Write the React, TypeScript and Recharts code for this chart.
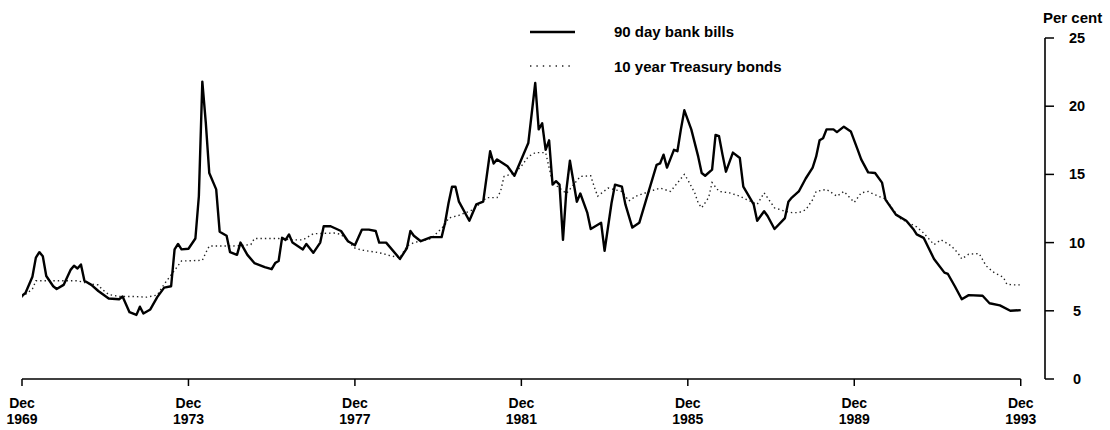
import { LineChart, Line, XAxis, YAxis, ReferenceLine } from "recharts";

// months after Dec 1969
const billMonths = [
  0, 1, 3, 4, 5, 6, 7, 9, 10, 12, 14, 15, 16, 17, 18, 20, 22, 25, 28, 29, 31, 33, 34, 35, 37, 39, 41, 43, 44, 45,
  46, 48, 50, 51, 52, 53, 54, 56, 57, 59, 60, 62, 63, 65, 67, 70, 72, 73, 74, 75, 76, 77, 78, 81, 82, 84, 86, 87, 89, 92,
  94, 96, 98, 100, 102, 103, 105, 109, 111, 112, 113, 115, 118, 121, 122, 123, 124, 125, 126, 129, 131, 133, 135, 136, 137, 140, 142, 146, 148, 149,
  150, 151, 152, 153, 154, 155, 156, 157, 158, 160, 161, 163, 164, 167, 168, 170, 171, 173, 174, 176, 178, 180, 183, 184, 185, 186, 188, 189, 190, 191,
  193, 195, 196, 197, 199, 200, 201, 202, 203, 205, 207, 208, 211, 212, 214, 215, 217, 220, 221, 222, 224, 226, 228, 229, 230, 231, 232, 234, 235, 237,
  239, 241, 242, 244, 246, 248, 249, 252, 255, 257, 258, 260, 263, 266, 267, 269, 271, 273, 277, 279, 282, 285, 288,
];
const billRates = [
  6.1, 6.3, 7.5, 8.9, 9.3, 9.0, 7.55, 6.8, 6.6, 6.9, 8.0, 8.3, 8.1, 8.4, 7.2, 6.9, 6.45, 5.9, 5.85, 6.05, 4.9, 4.7, 5.3, 4.8, 5.1, 6.0, 6.7, 6.8, 9.5, 9.9,
  9.5, 9.55, 10.3, 13.4, 21.8, 18.8, 15.1, 13.9, 10.8, 10.5, 9.3, 9.1, 10.0, 9.1, 8.5, 8.2, 8.05, 8.5, 8.65, 10.35, 10.2, 10.6, 10.0, 9.5, 9.9, 9.25, 10.0, 11.2, 11.2, 10.85,
  10.1, 9.8, 10.95, 10.95, 10.85, 10.0, 10.0, 8.8, 9.6, 10.85, 10.5, 10.1, 10.4, 10.4, 11.45, 12.9, 14.1, 14.1, 13.0, 11.6, 12.8, 13.0, 16.7, 15.8, 16.1, 15.6, 14.9, 17.3, 21.7, 18.3,
  18.75, 16.8, 17.5, 14.25, 14.5, 14.25, 10.2, 13.9, 16.0, 13.0, 13.6, 12.2, 11.0, 11.45, 9.4, 12.9, 14.25, 14.1, 12.8, 11.1, 11.45, 13.15, 15.7, 15.8, 16.45, 15.5, 16.8, 16.7, 18.3, 19.7,
  18.3, 16.3, 15.1, 14.9, 15.35, 17.9, 17.8, 16.45, 15.2, 16.6, 16.2, 14.1, 12.8, 11.6, 12.3, 11.95, 11.0, 11.8, 13.0, 13.3, 13.75, 14.7, 15.5, 16.3, 17.5, 17.65, 18.3, 18.3, 18.1, 18.5,
  18.15, 16.8, 16.1, 15.15, 15.1, 14.4, 13.15, 12.05, 11.6, 11.0, 10.6, 10.35, 8.8, 7.8, 7.7, 6.8, 5.85, 6.15, 6.1, 5.55, 5.4, 5.0, 5.05,
];

const bondMonths = [
  0, 3, 4, 6, 10, 12, 16, 20, 22, 23, 25, 28, 32, 36, 39, 41, 46, 52, 53, 54, 58, 61, 66, 67, 74, 78, 81, 84, 90, 92,
  95, 96, 98, 102, 104, 106, 109, 111, 113, 118, 122, 123, 126, 130, 134, 137, 138, 139, 142, 144, 146, 148, 151, 153, 157, 161, 164, 165, 166, 169,
  173, 175, 177, 181, 184, 187, 191, 192, 194, 195, 196, 198, 199, 201, 204, 207, 209, 212, 214, 217, 220, 222, 224, 226, 228, 229, 232, 235, 237, 240,
  242, 244, 246, 249, 253, 258, 260, 263, 265, 268, 270, 271, 273, 276, 278, 280, 283, 284, 286, 288,
];
const bondRates = [
  6.0, 6.6, 7.2, 7.2, 7.2, 7.2, 7.2, 6.95, 6.9, 6.6, 6.2, 6.05, 6.05, 6.0, 6.15, 6.95, 8.65, 8.7, 9.25, 9.75, 9.75, 9.75, 9.85, 10.3, 10.3, 10.2, 10.2, 10.65, 10.7, 10.6,
  9.85, 9.6, 9.45, 9.3, 9.2, 9.05, 8.9, 9.75, 10.0, 10.3, 11.3, 11.8, 12.0, 12.4, 13.3, 13.3, 13.75, 14.85, 15.1, 15.6, 16.3, 16.6, 16.6, 14.4, 13.6, 14.85, 14.9, 14.1, 13.4, 14.0,
  13.75, 13.05, 13.4, 13.75, 14.0, 13.75, 15.0, 14.6, 13.65, 12.9, 12.55, 13.3, 14.4, 13.75, 13.65, 13.4, 13.15, 12.8, 13.65, 12.55, 12.3, 12.2, 12.2, 12.4, 13.15, 13.75, 13.9, 13.4, 13.75, 12.95,
  13.65, 13.75, 13.5, 13.2, 11.8, 11.15, 10.7, 9.85, 10.2, 9.75, 9.2, 8.8, 9.15, 9.2, 8.3, 7.85, 7.45, 6.95, 6.9, 6.9,
];

const tickMonths = [0, 48, 96, 144, 192, 240, 288];
const tickYears = ["1969", "1973", "1977", "1981", "1985", "1989", "1993"];
const rateTicks = [0, 5, 10, 15, 20, 25];

const billData = billMonths.map((m, i) => ({ m, v: billRates[i] }));
const bondData = bondMonths.map((m, i) => ({ m, v: bondRates[i] }));

const FONT = "'Liberation Sans', Arial, Helvetica, sans-serif";

const XTick = (props: any) => {
  const { x, y, payload } = props;
  const yr = tickYears[tickMonths.indexOf(payload.value)];
  return (
    <text x={x} y={y} textAnchor="middle" fontFamily={FONT} fontSize={14} fontWeight="bold" fill="#000">
      <tspan x={x} dy={20}>Dec</tspan>
      <tspan x={x} dy={16}>{yr}</tspan>
    </text>
  );
};

const YTick = (props: any) => {
  const { x, y, payload } = props;
  return (
    <text x={x + 21} y={y} dy={5} textAnchor="middle" fontFamily={FONT} fontSize={14.5} fontWeight="bold" fill="#000">
      {payload.value}
    </text>
  );
};

export default function App() {
  return (
    <div style={{ position: "absolute", left: 0, top: 0, width: 1110, height: 430, background: "#fff" }}>
      <LineChart width={1110} height={430} data={billData} margin={{ top: 38, right: 0, bottom: 0, left: 22 }}>
        <XAxis
          type="number"
          dataKey="m"
          domain={[0, 295]}
          ticks={tickMonths}
          interval={0}
          allowDataOverflow
          height={51}
          axisLine={false}
          tickLine={{ stroke: "#000", strokeWidth: 1.5 }}
          tickSize={7}
          tick={<XTick />}
        />
        <YAxis
          orientation="right"
          type="number"
          domain={[0, 25]}
          ticks={rateTicks}
          interval={0}
          width={65}
          axisLine={{ stroke: "#000", strokeWidth: 1.6 }}
          tickLine={{ stroke: "#000", strokeWidth: 1.5 }}
          tickSize={9}
          tick={<YTick />}
          label={({ viewBox }: any) => (
            <text x={viewBox.x - 2} y={viewBox.y - 15} fontFamily={FONT} fontSize={15} fontWeight="bold" fill="#000">
              Per cent
            </text>
          )}
        />
        <ReferenceLine
          segment={[{ x: 0, y: 0 }, { x: 288, y: 0 }]}
          stroke="#000"
          strokeWidth={1.6}
          ifOverflow="visible"
        />
        <Line data={bondData} dataKey="v" type="linear" stroke="#222" strokeWidth={1.4} strokeDasharray="1.4 3" dot={false} isAnimationActive={false} />
        <Line data={billData} dataKey="v" type="linear" stroke="#000" strokeWidth={2.4} strokeLinejoin="round" dot={false} isAnimationActive={false} />
      </LineChart>
      <svg width={1110} height={430} style={{ position: "absolute", left: 0, top: 0, pointerEvents: "none" }}>
        <line x1={530} y1={32} x2={575} y2={32} stroke="#000" strokeWidth={2.4} />
        <text x={614} y={37} fontFamily={FONT} fontSize={15} fontWeight="bold" fill="#000">90 day bank bills</text>
        <line x1={530} y1={66} x2={572} y2={66} stroke="#222" strokeWidth={1.4} strokeDasharray="1.4 5" />
        <text x={614} y={72} fontFamily={FONT} fontSize={15} fontWeight="bold" fill="#000">10 year Treasury bonds</text>
      </svg>
    </div>
  );
}
